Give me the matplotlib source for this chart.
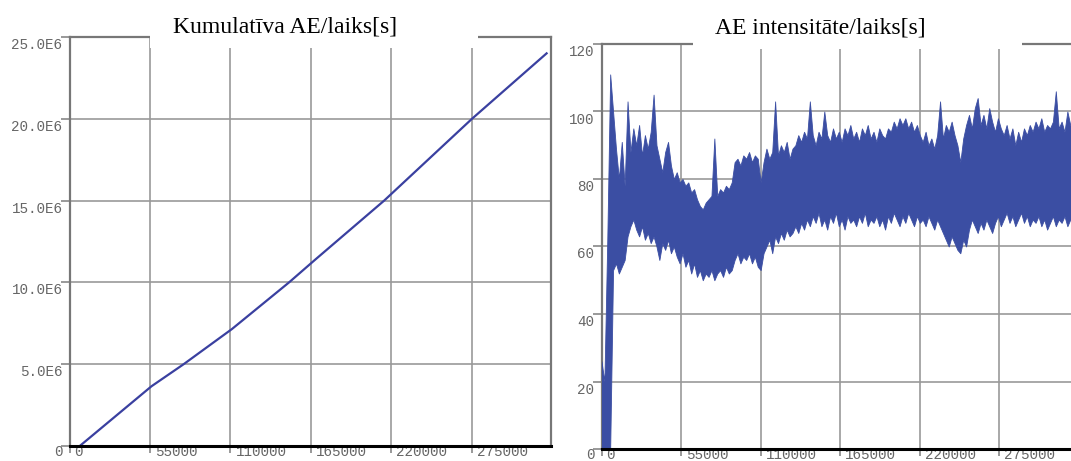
import numpy as np
import matplotlib
matplotlib.use('Agg')
import matplotlib.pyplot as plt
import matplotlib.transforms as mtransforms
from matplotlib.patches import Rectangle

# --- data ---
# cumulative AE counts vs time [s]
cum_time = [7000, 56000, 78000, 111000, 150000, 168000, 215000, 275000, 326000]
cum_ae = [0.0, 3.65e6, 5.0e6, 7.15e6, 10.0e6, 11.4e6, 15.0e6, 20.0e6, 24.0e6]

# AE intensity: min / max of the signal in every 2000 s window
int_step = 2000
int_hi = [26, 20, 62, 111, 100, 89, 80, 91, 78, 103,
          88, 95, 90, 96, 87, 93, 89, 94, 105, 90,
          86, 82, 88, 91, 84, 80, 82, 79, 80, 78,
          79, 76, 77, 74, 72, 71, 73, 74, 75, 92,
          75, 77, 76, 78, 77, 79, 85, 86, 84, 87,
          86, 88, 85, 87, 86, 79, 85, 89, 86, 88,
          103, 87, 90, 88, 91, 86, 89, 90, 93, 91,
          94, 92, 103, 93, 90, 94, 92, 100, 93, 91,
          95, 92, 94, 91, 95, 93, 96, 92, 94, 91,
          95, 93, 96, 92, 94, 91, 95, 93, 92, 95,
          94, 97, 95, 98, 96, 98, 95, 97, 94, 96,
          93, 91, 94, 90, 92, 89, 93, 103, 92, 96,
          94, 97, 93, 90, 85, 92, 96, 99, 95, 101,
          104, 96, 99, 95, 101, 97, 94, 98, 95, 93,
          96, 92, 95, 90, 94, 91, 95, 93, 96, 94,
          97, 95, 98, 94, 96, 95, 97, 106, 95, 97,
          94, 100, 96, 95]
int_lo = [0, 0, 0, 0, 53, 55, 52, 54, 56, 63,
          66, 68, 65, 63, 66, 62, 64, 61, 63, 60,
          56, 61, 59, 62, 58, 60, 57, 55, 58, 54,
          56, 52, 55, 51, 53, 50, 52, 51, 53, 50,
          52, 53, 51, 54, 52, 53, 56, 58, 55, 57,
          56, 58, 55, 57, 54, 53, 58, 60, 62, 58,
          63, 61, 64, 62, 65, 63, 64, 66, 64, 67,
          65, 68, 66, 69, 67, 70, 66, 68, 65, 69,
          67, 70, 66, 68, 65, 69, 67, 68, 66, 69,
          67, 70, 66, 68, 67, 69, 66, 68, 65, 69,
          67, 70, 68, 66, 69, 67, 70, 68, 66, 69,
          67, 68, 66, 69, 67, 65, 68, 66, 64, 62,
          60, 63, 61, 59, 58, 62, 60, 65, 68, 66,
          64, 67, 65, 68, 66, 64, 67, 69, 66, 68,
          70, 67, 69, 66, 68, 70, 67, 69, 66, 68,
          67, 69, 66, 68, 65, 67, 69, 66, 68, 67,
          69, 66, 68, 67]

x_ticks = [0, 55000, 110000, 165000, 220000, 275000]
x_tick_labels = ['0', '55000', '110000', '165000', '220000', '275000']
cum_yticks = [0, 5e6, 10e6, 15e6, 20e6, 25e6]
cum_ytick_labels = ['0', '5.0E6', '10.0E6', '15.0E6', '20.0E6', '25.0E6']
int_yticks = [0, 20, 40, 60, 80, 100, 120]
int_ytick_labels = ['0', '20', '40', '60', '80', '100', '120']

titles = ['Kumulatīva AE/laiks[s]', 'AE intensitāte/laiks[s]']

W, H = 1071, 461
fig = plt.figure(figsize=(W / 100, H / 100), dpi=100)


def px_axes(x0, y0, x1, y1):
    # axes box given in pixel coords, origin top-left
    return fig.add_axes([x0 / W, 1 - y1 / H, (x1 - x0) / W, (y1 - y0) / H])


def px_offset(dx, dy):
    return mtransforms.ScaledTranslation(dx / 100, dy / 100, fig.dpi_scale_trans)


def style_axes(ax, yticks, ylabels, ymax):
    ax.set_xlim(0, 329000)
    ax.set_ylim(0, ymax)
    ax.set_xticks(x_ticks, x_tick_labels)
    ax.set_yticks(yticks, ylabels)
    ax.grid(True, color='#999999', lw=1.2, zorder=1)
    ax.set_axisbelow(True)
    ax.tick_params(axis='both', direction='out', color='#888888', width=1.2,
                   labelsize=10.3, labelcolor='#666666', pad=0)
    ax.tick_params(axis='x', length=5)
    ax.tick_params(axis='y', length=6.5)
    for lab in ax.get_xticklabels():
        lab.set_fontfamily('Liberation Mono')
        lab.set_ha('left')
        lab.set_transform(lab.get_transform() + px_offset(5, 8))
    for i, lab in enumerate(ax.get_yticklabels()):
        lab.set_fontfamily('Liberation Mono')
        lab.set_va('top')
        # the bottom "0" sits level with the x labels
        dy = 1 if i == 0 else -1
        lab.set_transform(lab.get_transform() + px_offset(2, dy))
    for side in ['top', 'right', 'left']:
        ax.spines[side].set_color('#777777')
        ax.spines[side].set_linewidth(1.6)
    ax.spines['bottom'].set_color('black')
    ax.spines['bottom'].set_linewidth(2.2)
    ax.spines['bottom'].set_zorder(4)


# left: cumulative AE
ax1 = px_axes(69.5, 37, 551, 446)
ax1.plot(cum_time, cum_ae, color='#3a40a0', lw=1.6, zorder=3)
style_axes(ax1, cum_yticks, cum_ytick_labels, 25e6)

# right: AE intensity
ax2 = px_axes(601.5, 44, 1077.5, 449)
int_time = np.arange(len(int_hi)) * int_step
ax2.fill_between(int_time, int_lo, int_hi, facecolor='#3b4ea3',
                 edgecolor='#3b4ea3', lw=0.6, zorder=3)
style_axes(ax2, int_yticks, int_ytick_labels, 120)

# white title boxes cut into the top frame
for (x0, x1, y1), xc, yb, title in zip([(150, 478, 48), (693, 1022, 49)],
                                        [285, 820], [32, 33], titles):
    fig.add_artist(Rectangle((x0 / W, 1 - y1 / H), (x1 - x0) / W, y1 / H,
                             transform=fig.transFigure, facecolor='white',
                             edgecolor='none', zorder=5))
    fig.text(xc / W, 1 - yb / H, title, ha='center', va='baseline',
             family='Liberation Serif', size=17, zorder=6)

fig.savefig('out.png', dpi=100)
